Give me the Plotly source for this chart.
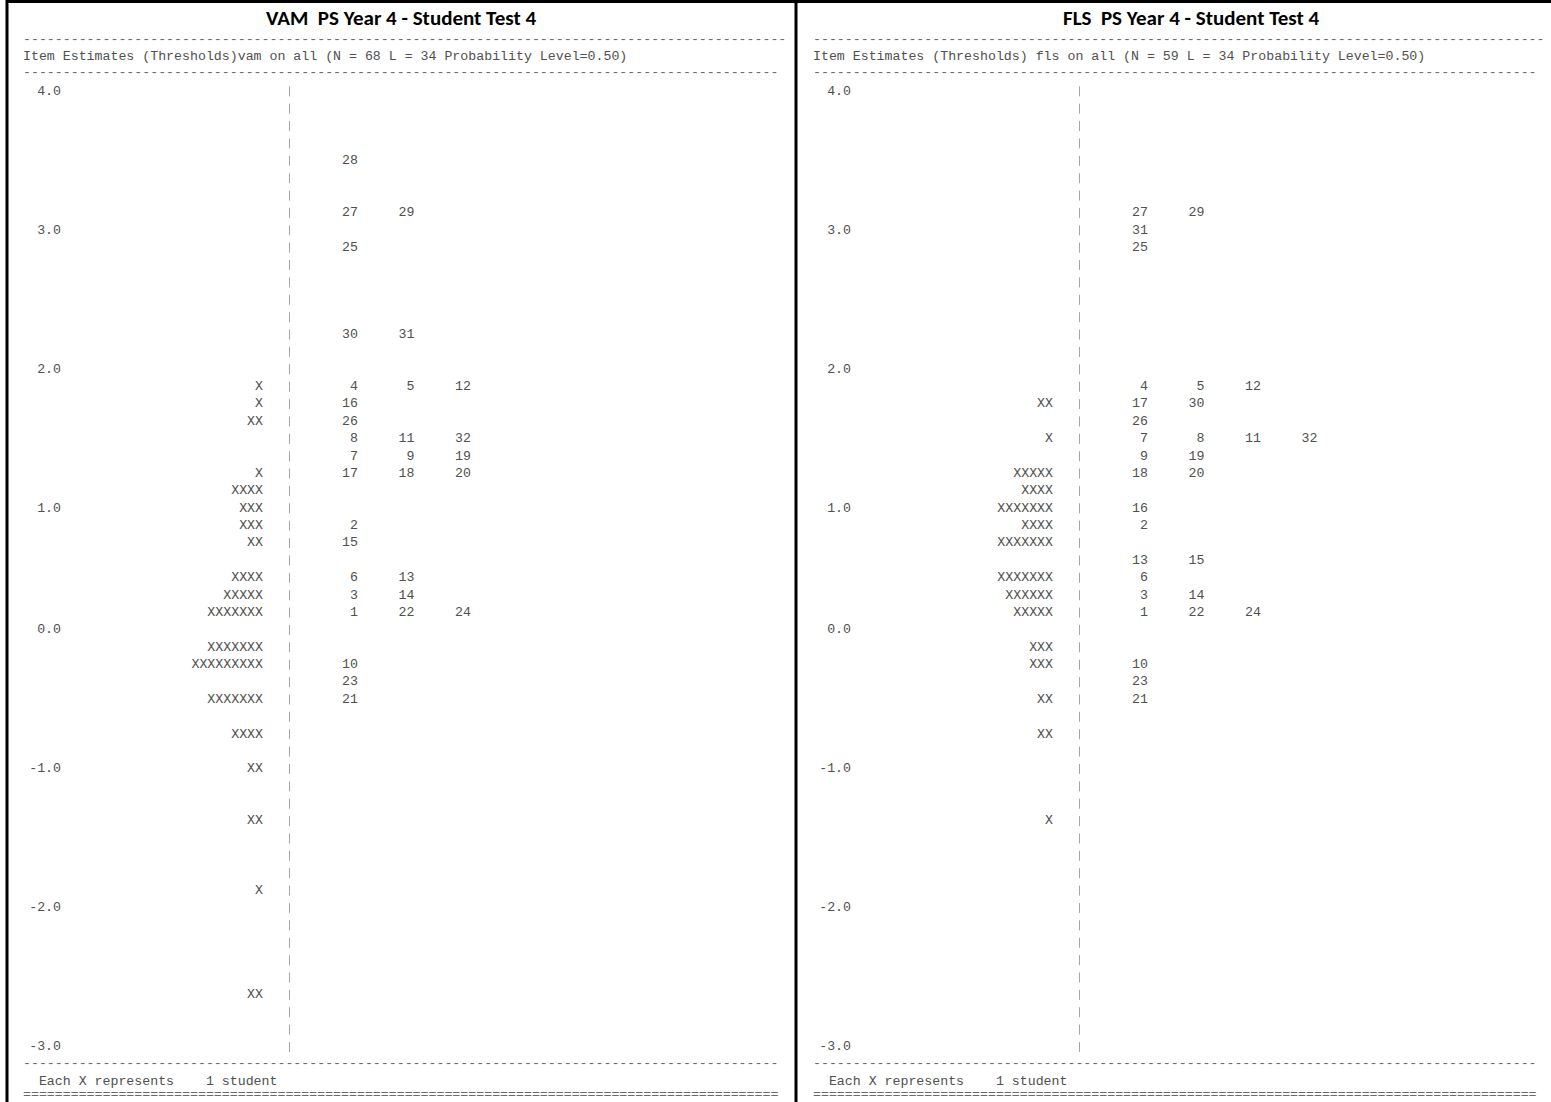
import plotly.graph_objects as go

# ---------------------------------------------------------------------------
# Wright map (item-person map) for two schools, printed in the text style of
# a ConQuest "Item Estimates (Thresholds)" map.
# ---------------------------------------------------------------------------

# Logit scale covered by the map and the row grid used to print it
SCALE_TOP = 4.0
SCALE_BOTTOM = -3.0
N_STEPS = 55
STEP = (SCALE_TOP - SCALE_BOTTOM) / N_STEPS
scale_ticks = [4.0, 3.0, 2.0, 1.0, 0.0, -1.0, -2.0, -3.0]

# ---- VAM ------------------------------------------------------------------
vam_title = "VAM  PS Year 4 - Student Test 4"
vam_header = "Item Estimates (Thresholds)vam on all (N = 68 L = 34 Probability Level=0.50)"

vam_student_logit = [1.84, 1.71, 1.58, 1.20, 1.07, 0.95, 0.82, 0.69, 0.44, 0.31,
                     0.18, -0.07, -0.20, -0.45, -0.71, -0.96, -1.35, -1.85, -2.62]
vam_student_count = [1, 1, 2, 1, 4, 3, 3, 2, 4, 5,
                     7, 7, 9, 7, 4, 2, 2, 1, 2]

vam_item_number = [1, 2, 3, 4, 5, 6, 7, 8, 9, 10, 11, 12, 13, 14, 15, 16,
                   17, 18, 19, 20, 21, 22, 23, 24, 25, 26, 27, 28, 29, 30, 31, 32]
vam_item_logit = [0.18, 0.82, 0.31, 1.84, 1.84, 0.44, 1.33, 1.45, 1.33, -0.20,
                  1.45, 1.84, 0.44, 0.31, 0.69, 1.71, 1.20, 1.20, 1.33, 1.20,
                  -0.45, 0.18, -0.33, 0.18, 2.85, 1.58, 3.11, 3.49, 3.11, 2.22,
                  2.22, 1.45]

# ---- FLS ------------------------------------------------------------------
fls_title = "FLS  PS Year 4 - Student Test 4"
fls_header = "Item Estimates (Thresholds) fls on all (N = 59 L = 34 Probability Level=0.50)"

fls_student_logit = [1.71, 1.45, 1.20, 1.07, 0.95, 0.82, 0.69, 0.44, 0.31, 0.18,
                     -0.07, -0.20, -0.45, -0.71, -1.35]
fls_student_count = [2, 1, 5, 4, 7, 4, 7, 7, 6, 5,
                     3, 3, 2, 2, 1]

fls_item_number = [1, 2, 3, 4, 5, 6, 7, 8, 9, 10, 11, 12, 13, 14, 15, 16,
                   17, 18, 19, 20, 21, 22, 23, 24, 25, 26, 27, 29, 30, 31, 32]
fls_item_logit = [0.18, 0.82, 0.31, 1.84, 1.84, 0.44, 1.45, 1.45, 1.33, -0.20,
                  1.45, 1.84, 0.56, 0.31, 0.56, 0.95, 1.71, 1.20, 1.33, 1.20,
                  -0.45, 0.18, -0.33, 0.18, 2.85, 1.58, 3.11, 3.11, 1.71, 2.98,
                  1.45]

footer_text = "Each X represents    1 student"

# ---------------------------------------------------------------------------
# Page geometry (pixels) and styling
# ---------------------------------------------------------------------------
W, H = 1551, 1102
PX_TOP_ROW, PX_BOTTOM_ROW = 91.3, 1047.0           # pixel rows of 4.0 and -3.0
PX_PER_LOGIT = (PX_BOTTOM_ROW - PX_TOP_ROW) / (SCALE_TOP - SCALE_BOTTOM)
PX_PER_ROW = PX_PER_LOGIT * STEP
Y_RANGE = [SCALE_BOTTOM - (H - PX_BOTTOM_ROW) / PX_PER_LOGIT,
           SCALE_TOP + PX_TOP_ROW / PX_PER_LOGIT]

MONO = "Courier New, Liberation Mono, monospace"
MONO_SIZE = 13.25
TEXT_COLOR = "#505050"
RULE_COLOR = "#6a6a6a"
PIPE_COLOR = "#a6a6a6"

PANEL_OFFSETS = [0, 790]          # horizontal shift of each panel
RULE_CHARS = [96, 92]             # length of the printed rules in each panel
COL_TEXT_LEFT = 22                # left edge of printed header / footer
COL_SCALE_RIGHT = 61              # right edge of scale labels
COL_STUDENTS_RIGHT = 263          # right edge of the X strings
COL_PIPE = 289.5                  # divider column
COL_ITEM_RIGHT = 358              # right edge of first item column
ITEM_COL_STEP = 56.5
PIPE_MARK_PX = 10                 # visible height of each divider mark


def row_of(v):
    """Row index on the printed grid for a logit value."""
    return int(round((SCALE_TOP - v) / STEP))


def row_logit(r):
    return SCALE_TOP - r * STEP


def paper_y(px):
    return 1 - px / H


fig = go.Figure()
annotations = []
shapes = []

panels = [
    (vam_title, vam_header, vam_student_logit, vam_student_count,
     vam_item_number, vam_item_logit),
    (fls_title, fls_header, fls_student_logit, fls_student_count,
     fls_item_number, fls_item_logit),
]

half_mark = (PIPE_MARK_PX / 2) / PX_PER_LOGIT

for off, n_rule, (title, header, s_logit, s_count, i_num, i_logit) in zip(
        PANEL_OFFSETS, RULE_CHARS, panels):
    mono = dict(family=MONO, size=MONO_SIZE, color=TEXT_COLOR)

    # scale labels, printed on the row nearest each tick value
    fig.add_trace(go.Scatter(
        x=[off + COL_SCALE_RIGHT] * len(scale_ticks),
        y=[row_logit(row_of(t)) for t in scale_ticks],
        text=[f"{t:.1f}" for t in scale_ticks],
        mode="text", textposition="middle left", textfont=mono,
        hoverinfo="skip", showlegend=False))

    # divider column: one short mark per printed row
    fig.add_trace(go.Scatter(
        x=[off + COL_PIPE, off + COL_PIPE],
        y=[SCALE_TOP + half_mark, SCALE_BOTTOM - half_mark],
        mode="lines",
        line=dict(color=PIPE_COLOR, width=1,
                  dash=f"{PIPE_MARK_PX}px,{PX_PER_ROW - PIPE_MARK_PX:.3f}px"),
        hoverinfo="skip", showlegend=False))

    # students: one X per student
    fig.add_trace(go.Scatter(
        x=[off + COL_STUDENTS_RIGHT] * len(s_logit),
        y=[row_logit(row_of(v)) for v in s_logit],
        text=["X" * n for n in s_count],
        mode="text", textposition="middle left", textfont=mono,
        hoverinfo="skip", showlegend=False))

    # items: grouped by row, ascending item number across columns
    by_row = {}
    for num, v in zip(i_num, i_logit):
        by_row.setdefault(row_of(v), []).append(num)
    ix, iy, itext = [], [], []
    for r, nums in by_row.items():
        for col, num in enumerate(sorted(nums)):
            ix.append(off + COL_ITEM_RIGHT + col * ITEM_COL_STEP)
            iy.append(row_logit(r))
            itext.append(str(num))
    fig.add_trace(go.Scatter(
        x=ix, y=iy, text=itext,
        mode="text", textposition="middle left", textfont=mono,
        hoverinfo="skip", showlegend=False))

    # title and printed header / footer lines
    annotations.append(dict(
        x=off + 401, y=paper_y(18), xref="x", yref="paper",
        text=f"<b>{title}</b>", showarrow=False,
        xanchor="center", yanchor="middle",
        font=dict(family="Carlito, Lato, sans-serif", size=21, color="#000000")))
    text_lines = [
        (39, "-" * n_rule, RULE_COLOR),
        (56, header, TEXT_COLOR),
        (72, "-" * (n_rule - 1), RULE_COLOR),
        (1063, "-" * (n_rule - 1), RULE_COLOR),
        (1081, "  " + footer_text, TEXT_COLOR),
        (1094.5, "=" * (n_rule - 1), RULE_COLOR),
    ]
    for py, txt, col in text_lines:
        annotations.append(dict(
            x=off + COL_TEXT_LEFT, y=paper_y(py), xref="x", yref="paper",
            text=txt.replace(" ", "&nbsp;"), showarrow=False,
            xanchor="left", yanchor="middle", borderpad=0,
            font=dict(family=MONO, size=MONO_SIZE, color=col)))

# panel frames
for xb in (7, 796):
    shapes.append(dict(type="line", xref="x", yref="paper",
                       x0=xb, x1=xb, y0=0, y1=1,
                       line=dict(color="#000000", width=3)))
shapes.append(dict(type="line", xref="x", yref="paper",
                   x0=6, x1=W, y0=paper_y(1.5), y1=paper_y(1.5),
                   line=dict(color="#000000", width=3)))

fig.update_layout(
    width=W, height=H,
    margin=dict(l=0, r=0, t=0, b=0),
    paper_bgcolor="white", plot_bgcolor="white",
    xaxis=dict(range=[0, W], domain=[0, 1], visible=False, fixedrange=True),
    yaxis=dict(range=Y_RANGE, domain=[0, 1], visible=False, fixedrange=True),
    annotations=annotations,
    shapes=shapes,
    showlegend=False,
)

fig.write_html("out.html")
